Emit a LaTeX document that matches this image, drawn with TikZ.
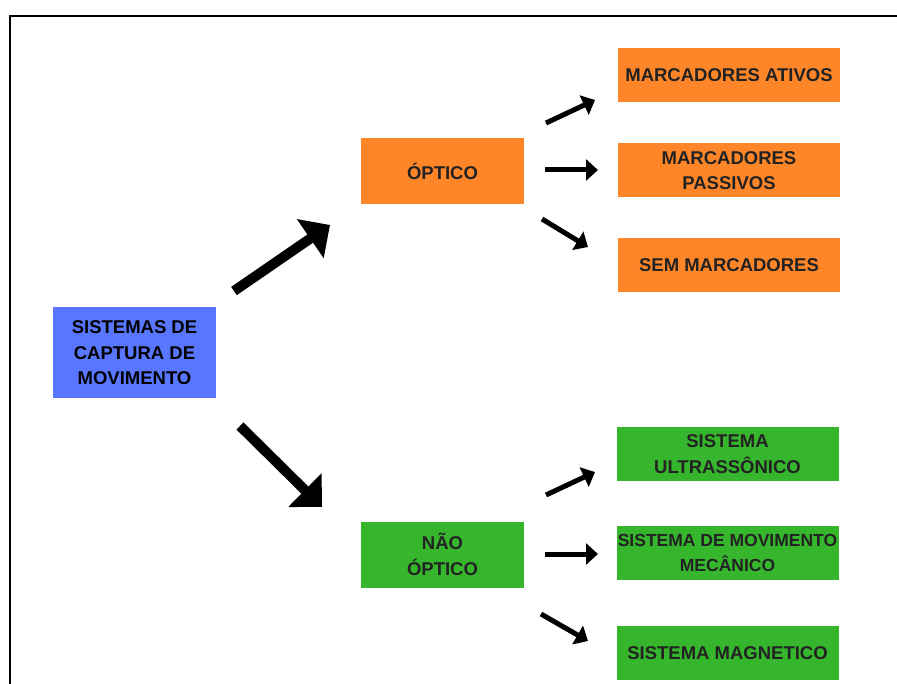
\documentclass[tikz,border=0pt]{standalone}
\usepackage{fontspec}
\setmainfont{Liberation Sans}
\usetikzlibrary{arrows.meta}

\definecolor{laranja}{RGB}{255,134,40}
\definecolor{verde}{RGB}{54,182,44}
\definecolor{azul}{RGB}{88,118,255}
\definecolor{texto}{RGB}{34,34,34}

\tikzset{
  caixa/.style  = {shape = rectangle, inner sep = 0pt, align = center, text = texto,
                   font = \fontsize{18.5}{25.5}\selectfont\bfseries},
  raiz/.style   = {caixa, fill = azul, text = black, minimum width = 163pt, minimum height = 91pt},
  grupo/.style  = {caixa, minimum width = 163pt, minimum height = 66pt},
  folha/.style  = {caixa, minimum width = 222pt, minimum height = 54pt},
  seta/.style   = {line width = 10pt, -{Triangle[length = 24pt, width = 46pt]}},
  setinha/.style = {line width = 5pt, -{Triangle[length = 12pt, width = 21pt]}},
}

\begin{document}
\begin{tikzpicture}[x = 1pt, y = -1pt]
        \useasboundingbox (0, 0) rectangle (897, 684);
        \draw[line width = 2.8pt] (10, 700) |- (900, 16);

        % ------------------------------------------------------------------------
        % Root
        \node[raiz] at (134.5, 353) (sis) {SISTEMAS DE\\CAPTURA DE\\MOVIMENTO};

        \node[grupo, fill = laranja] at (442.5, 171)   (opt)  {ÓPTICO};
        \node[grupo, fill = verde]   at (442.5, 554.5) (nopt) {NÃO\\ÓPTICO};

        \coordinate (sis-a) at (234, 291);
        \coordinate (opt-a) at (330, 225);
        \coordinate (sis-b) at (240, 426);
        \coordinate (nopt-b) at (322, 507);

        \draw[seta] (sis-a) -- (opt-a);
        \draw[seta] (sis-b) -- (nopt-b);

        % ------------------------------------------------------------------------
        % Optical
        \node[folha, fill = laranja] at (729, 75)    (ativ) {MARCADORES ATIVOS};
        \node[folha, fill = laranja] at (729, 170.5) (pass) {MARCADORES\\PASSIVOS};
        \node[folha, fill = laranja] at (729, 265)   (sem)  {SEM MARCADORES};

        \coordinate (opt-1) at (546, 123);
        \coordinate (ativ-1) at (595, 100);
        \coordinate (opt-2) at (545, 170);
        \coordinate (pass-2) at (598, 170);
        \coordinate (opt-3) at (542, 219);
        \coordinate (sem-3) at (588, 247);

        \draw[setinha] (opt-1) -- (ativ-1);
        \draw[setinha] (opt-2) -- (pass-2);
        \draw[setinha] (opt-3) -- (sem-3);

        % ------------------------------------------------------------------------
        % Non-optical
        \node[folha, fill = verde] at (727.5, 454) (ultr) {SISTEMA\\ULTRASSÔNICO};
        \node[folha, fill = verde, font = \fontsize{17.5}{25}\selectfont\bfseries]
          at (727.5, 553) (mec) {\makebox[0pt]{SISTEMA DE MOVIMENTO}\\MECÂNICO};
        \node[folha, fill = verde] at (727.5, 653) (mag)  {SISTEMA MAGNETICO};

        \coordinate (nopt-1) at (546, 495);
        \coordinate (ultr-1) at (595, 472);
        \coordinate (nopt-2) at (545, 554);
        \coordinate (mec-2) at (598, 554);
        \coordinate (nopt-3) at (541, 614);
        \coordinate (mag-3) at (588, 641);

        \draw[setinha] (nopt-1) -- (ultr-1);
        \draw[setinha] (nopt-2) -- (mec-2);
        \draw[setinha] (nopt-3) -- (mag-3);
      \end{tikzpicture}
\end{document}
